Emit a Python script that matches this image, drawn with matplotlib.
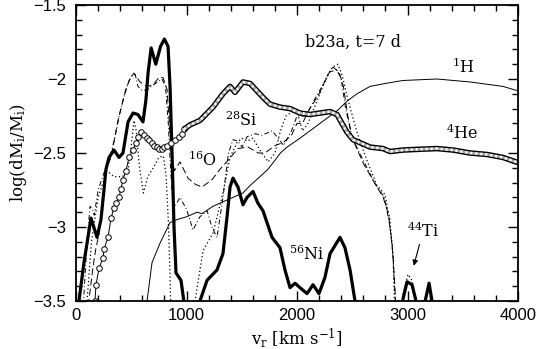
import matplotlib
matplotlib.use("Agg")
import matplotlib.pyplot as plt
from matplotlib.ticker import MultipleLocator, FuncFormatter

plt.rcParams["mathtext.fontset"] = "dejavuserif"

# velocity [km/s] and log(dM_i/M_i)
ni_v = [15, 27, 72, 136, 190, 226, 253, 271, 299, 344, 389, 425, 471, 516, 561, 606, 633, 652,
        680, 722, 765, 800, 833, 851, 869, 887, 905, 950, 985, 1000,
        1100, 1122, 1186, 1276, 1330, 1367, 1394, 1421, 1466, 1511, 1548, 1602, 1647, 1692,
        1774, 1846, 1891, 1937, 1982, 2027, 2091, 2145, 2199, 2253, 2299, 2389, 2434, 2480,
        2525, 2540, 2940, 2955, 2996, 3041, 3077, 3090, 3150, 3160, 3195, 3222, 3235]
ni_y = [-3.7, -3.5, -3.24, -2.94, -3.07, -2.95, -2.75, -2.61, -2.53, -2.48, -2.53, -2.50, -2.29,
        -2.23, -2.24, -2.29, -2.14, -1.96, -1.79, -1.90, -1.78, -1.73, -1.78, -2.05, -2.5, -3.0,
        -3.31, -3.36, -3.55, -3.7,
        -3.7, -3.5, -3.36, -3.29, -3.18, -2.93, -2.73, -2.67, -2.73, -2.85, -2.80, -2.76, -2.84,
        -2.89, -3.07, -3.14, -3.29, -3.41, -3.38, -3.41, -3.45, -3.39, -3.45, -3.34, -3.18, -3.07,
        -3.14, -3.29, -3.5, -3.7, -3.7, -3.5, -3.37, -3.39, -3.5, -3.7, -3.7, -3.5, -3.38, -3.5, -3.7]

# inner zones (each point is one marker) then the dense outer part
he_v = [172, 181, 208, 244, 253, 290, 317, 344, 362, 389, 407, 425, 452, 480, 516, 543, 565, 588,
        615, 640, 661, 685, 706, 730, 751, 775, 796, 828, 860, 895, 932, 955, 977,
        1032, 1122, 1240, 1330, 1394, 1439, 1511, 1575, 1650, 1700, 1756,
        1846, 1937, 2027, 2118, 2208, 2299, 2362, 2407, 2453, 2507, 2570, 2661, 2778, 2842, 2959,
        3100, 3267, 3412, 3566, 3719, 3864, 4000]
he_y = [-3.5, -3.39, -3.28, -3.21, -3.15, -3.07, -2.94, -2.87, -2.84, -2.80, -2.74, -2.68, -2.62,
        -2.53, -2.48, -2.43, -2.39, -2.36, -2.38, -2.40, -2.41, -2.43, -2.45, -2.46, -2.47, -2.47,
        -2.46, -2.45, -2.43, -2.41, -2.39, -2.37, -2.34,
        -2.31, -2.28, -2.19, -2.10, -2.05, -2.09, -2.02, -2.03, -2.09, -2.13, -2.17,
        -2.19, -2.20, -2.23, -2.24, -2.23, -2.22, -2.24, -2.30, -2.36, -2.41, -2.43, -2.46, -2.47,
        -2.49, -2.48, -2.475, -2.47, -2.48, -2.50, -2.51, -2.53, -2.565]

h_v = [643, 688, 760, 851, 914, 1004, 1095, 1140, 1240, 1330, 1421, 1511, 1575, 1650, 1737, 1800,
       1850, 1910, 2027, 2208, 2371, 2452, 2543, 2661, 2800, 2959, 3267, 3566, 3864, 4000]
h_y = [-3.5, -3.24, -3.11, -2.97, -2.95, -2.93, -2.90, -2.91, -2.86, -2.83, -2.80, -2.77, -2.72,
       -2.67, -2.61, -2.55, -2.50, -2.46, -2.40, -2.30, -2.21, -2.15, -2.10, -2.05, -2.03, -2.01,
       -2.00, -2.02, -2.05, -2.08]

o_v = [100, 154, 181, 208, 271, 317, 380, 434, 480, 525, 579, 643, 697, 751, 787, 824, 840, 860,
       890, 941, 1013, 1077, 1140, 1231, 1303, 1375, 1466, 1557, 1650, 1710, 1800, 1874, 1950,
       2000, 2050, 2100, 2200, 2280, 2326, 2380, 2420, 2460, 2500, 2600, 2700, 2780, 2830, 2870,
       2900]
o_y = [-3.6, -3.27, -3.14, -3.05, -2.61, -2.53, -2.28, -2.12, -2.01, -1.96, -2.02, -2.05, -2.04,
       -1.99, -1.99, -2.07, -2.25, -2.5, -2.62, -2.56, -2.67, -2.71, -2.73, -2.68, -2.61, -2.55,
       -2.47, -2.46, -2.50, -2.50, -2.45, -2.43, -2.38, -2.30, -2.30, -2.22, -2.10, -1.97, -1.92,
       -1.95, -2.05, -2.25, -2.40, -2.57, -2.70, -2.80, -2.92, -3.2, -3.6]

si_v = [60, 100, 127, 150, 165, 200, 260, 300, 350, 400, 450, 500, 536, 561, 600, 650, 700, 778,
        810, 835, 855, 880, 941, 1000, 1059, 1122, 1186, 1230, 1276, 1330, 1380, 1421, 1466, 1502,
        1548, 1620, 1683, 1774, 1819, 1880, 1950, 2000, 2080, 2150, 2250, 2300, 2362, 2400, 2440,
        2500, 2600, 2700, 2790, 2830, 2860, 2890, 2910]
si_y = [-3.6, -3.1, -2.86, -2.88, -2.92, -2.75, -2.62, -2.55, -2.40, -2.22, -2.07, -1.98, -1.97,
        -2.05, -2.08, -2.07, -2.04, -2.00, -2.05, -2.3, -2.6, -2.88, -2.80, -2.88, -3.02, -2.93,
        -2.89, -3.0, -3.07, -2.8, -2.5, -2.41, -2.42, -2.46, -2.39, -2.37, -2.38, -2.35, -2.39,
        -2.45, -2.35, -2.25, -2.25, -2.15, -2.02, -1.95, -1.94, -2.0, -2.2, -2.4, -2.55, -2.7,
        -2.8, -2.95, -3.1, -3.5, -3.6]

ti_v = [90, 140, 200, 280, 344, 420, 470, 500, 525, 545, 575, 610, 650, 700, 750, 790, 815, 835,
        850, 862, 1060, 1077, 1150, 1240, 1330, 1394, 1457, 1500, 1550, 1600, 1680, 1740, 1800,
        1850, 1900, 1960, 2000, 2050, 2100, 2180, 2260, 2320, 2371, 2410, 2461, 2543, 2633, 2724,
        2796, 2840, 2870, 2890, 2935, 2960, 3005, 3040, 3085, 3100]
ti_y = [-3.6, -3.1, -2.8, -2.62, -2.66, -2.66, -2.62, -2.45, -2.28, -2.35, -2.6, -2.77, -2.66,
        -2.6, -2.53, -2.52, -2.65, -2.95, -3.3, -3.7, -3.7, -3.5, -3.16, -3.04, -2.77, -2.53,
        -2.43, -2.40, -2.42, -2.40, -2.50, -2.56, -2.50, -2.35, -2.25, -2.22, -2.22, -2.35, -2.30,
        -2.15, -2.00, -1.92, -1.90, -1.98, -2.14, -2.36, -2.55, -2.72, -2.78, -2.95, -3.2, -3.7,
        -3.7, -3.45, -3.32, -3.36, -3.5, -3.7]

fig = plt.figure(figsize=(5.38, 3.49), dpi=100)
ax = fig.add_axes([76 / 538, 48 / 349, 442 / 538, 296 / 349])

ax.plot(h_v, h_y, color="black", lw=0.7)
ax.plot(o_v, o_y, color="black", lw=0.7, dashes=(7, 3.5))
ax.plot(si_v, si_y, color="black", lw=0.7, dashes=(5, 2.5, 1, 2.5))
ax.plot(ti_v, ti_y, color="black", lw=0.9, dashes=(1, 2))
ax.plot(ni_v, ni_y, color="black", lw=2.3)

# 4He: circles on the inner zones, a beaded band where zones crowd together
k = he_v.index(977)
ax.plot(he_v[:k + 1], he_y[:k + 1], color="black", lw=0.7, marker="o", ms=4.0,
        mfc="white", mec="black", mew=0.7)
ax.plot(he_v[k:], he_y[k:], color="black", lw=4.0, solid_capstyle="butt")
ax.plot(he_v[k:], he_y[k:], color="#a8a8a8", lw=2.0, solid_capstyle="butt")
ax.plot(he_v[k:], he_y[k:], color="white", lw=1.8, dashes=(0.8, 1.2))

ax.set_xlim(0, 4000)
ax.set_ylim(-3.5, -1.5)
ax.xaxis.set_major_locator(MultipleLocator(1000))
ax.xaxis.set_minor_locator(MultipleLocator(200))
ax.yaxis.set_major_locator(MultipleLocator(0.5))
ax.yaxis.set_minor_locator(MultipleLocator(0.1))
ax.yaxis.set_major_formatter(FuncFormatter(lambda v, p: ("%g" % v).replace("-", "\u2212")))
ax.tick_params(which="both", direction="in", top=True, right=True, width=1)
ax.tick_params(which="major", length=7)
ax.tick_params(which="minor", length=4)
ax.tick_params(axis="x", pad=5)
ax.tick_params(axis="y", pad=7)
for lab in ax.get_xticklabels() + ax.get_yticklabels():
    lab.set_fontfamily("Liberation Sans")
    lab.set_fontsize(12)
for sp in ax.spines.values():
    sp.set_linewidth(1.3)

ax.set_xlabel(r"v$_{\rm r}$ [km s$^{-1}$]", family="DejaVu Serif", fontsize=12, labelpad=2)
ax.set_ylabel(r"log(dM$_{\rm i}$/M$_{\rm i}$)", family="DejaVu Serif", fontsize=12, labelpad=3)

tkw = dict(family="DejaVu Serif", fontsize=11.5, ha="center", va="center")
ax.text(2507, -1.75, "b23a, t=7 d", **tkw)
ax.text(3502, -1.92, r"$^{1}$H", **tkw)
ax.text(3493, -2.365, r"$^{4}$He", **tkw)
ax.text(1493, -2.28, r"$^{28}$Si", **tkw)
ax.text(1149, -2.55, r"$^{16}$O", **tkw)
ax.text(2091, -3.19, r"$^{56}$Ni", **tkw)
ax.text(3140, -3.03, r"$^{44}$Ti", **tkw)
ax.annotate("", xy=(3050, -3.28), xytext=(3115, -3.10),
            arrowprops=dict(arrowstyle="-|>", color="black", lw=0.8, mutation_scale=8))

fig.savefig("out.png", dpi=100)
